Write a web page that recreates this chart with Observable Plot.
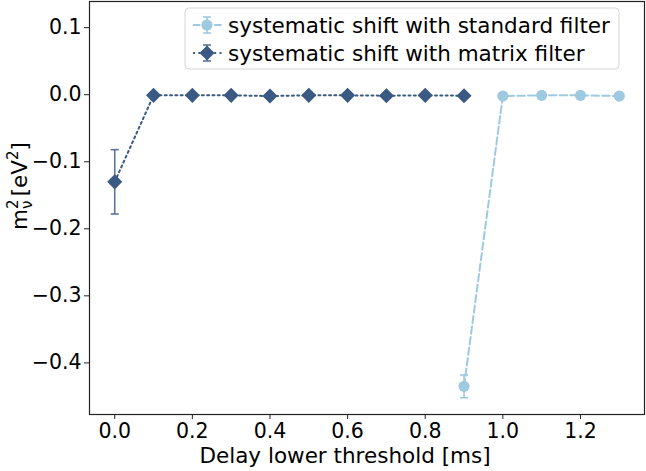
<!DOCTYPE html>
<html>
<head>
<meta charset="utf-8">
<script src="https://cdn.jsdelivr.net/npm/d3@7"></script>
<script src="https://cdn.jsdelivr.net/npm/@observablehq/plot@0.6"></script>
<style>
  html, body { margin: 0; padding: 0; background: #fff; }
  #chart { width: 646px; height: 471px; }
</style>
</head>
<body>
<div id="chart"></div>
<script>
// ---- data ----
const seriesNames = ["systematic shift with standard filter", "systematic shift with matrix filter"];
const stdX = [0.9, 1.0, 1.1, 1.2, 1.3];
const stdY = [-0.435, -0.002, -0.001, -0.001, -0.002];
const stdErr = [0.017, 0.002, 0.002, 0.002, 0.002];
const matX = [0.0, 0.1, 0.2, 0.3, 0.4, 0.5, 0.6, 0.7, 0.8, 0.9];
const matY = [-0.130, -0.001, -0.001, -0.001, -0.002, -0.001, -0.001, -0.0015, -0.001, -0.0015];
const matErr = [0.048, 0.002, 0.002, 0.002, 0.002, 0.002, 0.002, 0.002, 0.002, 0.002];
const xTicks = [0.0, 0.2, 0.4, 0.6, 0.8, 1.0, 1.2];
const yTicks = [-0.4, -0.3, -0.2, -0.1, 0.0, 0.1];
const xLabel = "Delay lower threshold [ms]";

// ---- style ----
const lightColor = "#9ecae1";
const darkColor = "#3a5a84";
const darkErrColor = "#5a7599";
const font = "DejaVu Sans";
const fs = 21.5;
const tfs = 20.5;

const stdRows = stdX.map((x, i) => ({x, y: stdY[i], e: stdErr[i]}));
const matRows = matX.map((x, i) => ({x, y: matY[i], e: matErr[i]}));

const capSymbol = {draw(ctx) { ctx.moveTo(-4, 0); ctx.lineTo(4, 0); }};

const plot = Plot.plot({
  width: 646,
  height: 471,
  marginLeft: 89,
  marginRight: 2,
  marginTop: 1,
  marginBottom: 57,
  style: {fontFamily: font, fontSize: tfs + "px", color: "#000", background: "#fff"},
  x: {domain: [-0.065, 1.365]},
  y: {domain: [-0.477, 0.139]},
  marks: [
    Plot.axisX({ticks: xTicks, tickFormat: d3.format(".1f"), tickSize: 5, tickPadding: 4, label: null, fontSize: tfs, stroke: "#222"}),
    Plot.axisY({ticks: yTicks, tickFormat: d3.format(".1f"), tickSize: 5, tickPadding: 3, label: null, fontSize: tfs, stroke: "#222"}),
    // standard filter
    Plot.line(stdRows, {x: "x", y: "y", stroke: lightColor, strokeWidth: 2, strokeDasharray: "7.4,3.2"}),
    Plot.ruleX(stdRows, {x: "x", y1: d => d.y - d.e, y2: d => d.y + d.e, stroke: lightColor, strokeWidth: 1.6}),
    Plot.dot(stdRows, {x: "x", y: d => d.y - d.e, symbol: capSymbol, stroke: lightColor, fill: "none", strokeWidth: 1.6}),
    Plot.dot(stdRows, {x: "x", y: d => d.y + d.e, symbol: capSymbol, stroke: lightColor, fill: "none", strokeWidth: 1.6}),
    Plot.dot(stdRows, {x: "x", y: "y", r: 5.6, fill: lightColor, stroke: null}),
    // matrix filter
    Plot.line(matRows, {x: "x", y: "y", stroke: darkColor, strokeWidth: 2, strokeDasharray: "2,3.3"}),
    Plot.ruleX(matRows, {x: "x", y1: d => d.y - d.e, y2: d => d.y + d.e, stroke: darkErrColor, strokeWidth: 1.6}),
    Plot.dot(matRows, {x: "x", y: d => d.y - d.e, symbol: capSymbol, stroke: darkErrColor, fill: "none", strokeWidth: 1.6}),
    Plot.dot(matRows, {x: "x", y: d => d.y + d.e, symbol: capSymbol, stroke: darkErrColor, fill: "none", strokeWidth: 1.6}),
    Plot.dot(matRows, {x: "x", y: "y", r: 6.8, symbol: "diamond2", fill: darkColor, stroke: null}),
    Plot.frame({stroke: "#222", strokeWidth: 1.2})
  ]
});
document.getElementById("chart").appendChild(plot);

const svg = d3.select(plot);

// x label
svg.append("text")
  .attr("x", 345).attr("y", 463)
  .attr("text-anchor", "middle")
  .attr("font-family", font).attr("font-size", fs)
  .attr("fill", "#000")
  .text(xLabel);

// y label: m_nu^2 [eV^2]
const yl = svg.append("text")
  .attr("transform", "translate(27,186) rotate(-90)")
  .attr("text-anchor", "middle")
  .attr("font-family", font).attr("font-size", fs)
  .attr("fill", "#000");
yl.append("tspan").text("m");
yl.append("tspan").attr("font-size", fs * 0.7).attr("dy", -9).text("2");
yl.append("tspan").attr("font-size", fs * 0.7).attr("dx", -9.5).attr("dy", 14).text("ν");
yl.append("tspan").attr("dy", -5).text("\u2009[eV");
yl.append("tspan").attr("font-size", fs * 0.7).attr("dy", -9).text("2");
yl.append("tspan").attr("dy", 9).text("]");

// legend
const lg = svg.append("g").attr("text-anchor", "start");
lg.append("rect")
  .attr("x", 185).attr("y", 8).attr("width", 434).attr("height", 61).attr("rx", 4)
  .attr("fill", "#fff").attr("fill-opacity", 0.8).attr("stroke", "#d5d5d5").attr("stroke-width", 1);
const items = [
  {name: seriesNames[0], color: lightColor, err: lightColor, dash: "7.4,3.2", sym: d3.symbolCircle, size: Math.PI * 5.6 * 5.6, y: 25},
  {name: seriesNames[1], color: darkColor, err: darkErrColor, dash: "2,3.3", sym: d3.symbolDiamond2, size: Math.PI * 6.8 * 6.8, y: 53}
];
for (const it of items) {
  lg.append("line").attr("x1", 193).attr("x2", 222).attr("y1", it.y).attr("y2", it.y)
    .attr("stroke", it.color).attr("stroke-width", 2).attr("stroke-dasharray", it.dash);
  lg.append("line").attr("x1", 207).attr("x2", 207).attr("y1", it.y - 8).attr("y2", it.y + 8)
    .attr("stroke", it.err).attr("stroke-width", 1.6);
  lg.append("line").attr("x1", 203).attr("x2", 211).attr("y1", it.y - 8).attr("y2", it.y - 8)
    .attr("stroke", it.err).attr("stroke-width", 1.6);
  lg.append("line").attr("x1", 203).attr("x2", 211).attr("y1", it.y + 8).attr("y2", it.y + 8)
    .attr("stroke", it.err).attr("stroke-width", 1.6);
  lg.append("path").attr("transform", `translate(207,${it.y})`)
    .attr("d", d3.symbol(it.sym, it.size)()).attr("fill", it.color);
  lg.append("text").attr("x", 228).attr("y", it.y).attr("dy", "0.35em")
    .attr("text-anchor", "start")
    .attr("font-family", font).attr("font-size", fs).attr("fill", "#000")
    .text(it.name);
}
</script>
</body>
</html>
